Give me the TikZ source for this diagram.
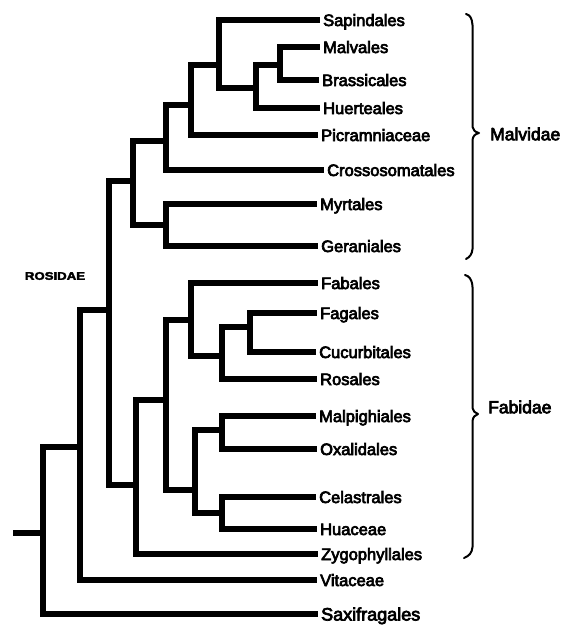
\documentclass[tikz,border=0pt]{standalone}
\usepackage{fontspec}
\usepackage{graphicx}
\setmainfont{Liberation Sans}
\newfontfamily\labfont{Liberation Sans}[FakeBold=4]
\newfontfamily\rosfont{Liberation Sans Bold}[FakeBold=3]
\tikzset{
  tree/.style={line width=5.2pt, line join=miter, line cap=butt},
  leaf/.style={anchor=west, inner xsep=3pt, inner ysep=0pt, text height=12pt, text depth=0pt, font=\labfont\fontsize{16.5}{18}\selectfont},
  clade/.style={anchor=west, inner sep=0pt, text height=12.5pt, text depth=0pt, font=\labfont\fontsize{17.5}{20}\selectfont},
  bracebar/.style={line width=2pt, line cap=round, line join=round}
}
\begin{document}
\begin{tikzpicture}[x=1pt,y=-1pt]
\useasboundingbox (0,0) rectangle (569,625);
% leaves
\node[leaf] (sap) at (320,20) {Sapindales};
\node[leaf] (mal) at (320,47) {Malvales};
\node[leaf] (bra) at (319,80) {Brassicales};
\node[leaf] (hue) at (320,108) {Huerteales};
\node[leaf] (pic) at (318,135) {Picramniaceae};
\node[leaf] (cro) at (324,170) {Crossosomatales};
\node[leaf] (myr) at (317,204) {Myrtales};
\node[leaf] (ger) at (318,246) {Geraniales};
\node[leaf] (fab) at (318,283) {Fabales};
\node[leaf] (fag) at (317,313) {Fagales};
\node[leaf] (cuc) at (316,352) {Cucurbitales};
\node[leaf] (ros) at (317,379) {Rosales};
\node[leaf] (malp) at (316,416) {Malpighiales};
\node[leaf] (oxa) at (317,449) {Oxalidales};
\node[leaf] (cel) at (316,497) {Celastrales};
\node[leaf] (hua) at (317,529) {Huaceae};
\node[leaf] (zyg) at (318,554) {Zygophyllales};
\node[leaf] (vit) at (317,580) {Vitaceae};
\node[leaf, text height=13pt, font=\labfont\fontsize{18}{20}\selectfont] (sax) at (318,614) {Saxifragales};
% internal nodes
\coordinate (nA) at (280,65);
\coordinate (nB) at (256,88);
\coordinate (nC) at (219,65);
\coordinate (nD) at (191,105);
\coordinate (nE) at (166,141);
\coordinate (nF) at (166,225);
\coordinate (nG) at (133,181);
\coordinate (nH) at (250,327);
\coordinate (nI) at (222,356);
\coordinate (nJ) at (191,320);
\coordinate (nK) at (222,430);
\coordinate (nL) at (222,513);
\coordinate (nM) at (195,490);
\coordinate (nN) at (166,400);
\coordinate (nO) at (136,485);
\coordinate (nP) at (109,310);
\coordinate (nQ) at (80,447);
\coordinate (nR) at (43,533);
\coordinate (root) at (13,533);
% edges
\draw[tree] (nA) |- (mal.west);  \draw[tree] (nA) |- (bra.west);
\draw[tree] (nB) |- (nA);        \draw[tree] (nB) |- (hue.west);
\draw[tree] (nC) |- (sap.west);  \draw[tree] (nC) |- (nB);
\draw[tree] (nD) |- (nC);        \draw[tree] (nD) |- (pic.west);
\draw[tree] (nE) |- (nD);        \draw[tree] (nE) |- (cro.west);
\draw[tree] (nF) |- (myr.west);  \draw[tree] (nF) |- (ger.west);
\draw[tree] (nG) |- (nE);        \draw[tree] (nG) |- (nF);
\draw[tree] (nH) |- (fag.west);  \draw[tree] (nH) |- (cuc.west);
\draw[tree] (nI) |- (nH);        \draw[tree] (nI) |- (ros.west);
\draw[tree] (nJ) |- (fab.west);  \draw[tree] (nJ) |- (nI);
\draw[tree] (nK) |- (malp.west); \draw[tree] (nK) |- (oxa.west);
\draw[tree] (nL) |- (cel.west);  \draw[tree] (nL) |- (hua.west);
\draw[tree] (nM) |- (nK);        \draw[tree] (nM) |- (nL);
\draw[tree] (nN) |- (nJ);        \draw[tree] (nN) |- (nM);
\draw[tree] (nO) |- (nN);        \draw[tree] (nO) |- (zyg.west);
\draw[tree] (nP) |- (nG);        \draw[tree] (nP) |- (nO);
\draw[tree] (nQ) |- (nP);        \draw[tree] (nQ) |- (vit.west);
\draw[tree] (nR) |- (nQ);        \draw[tree] (nR) |- (sax.west);
\draw[tree] (root) -- (nR);
% labels
\node[font=\rosfont\fontsize{11}{12}\selectfont, inner sep=0pt] (rosidae) at (55,276) {\scalebox{1.2}[1]{ROSIDAE}};
\node[clade] (malvidae) at (490,134) {Malvidae};
\node[clade] (fabidae) at (488,407) {Fabidae};
% braces
\draw[bracebar] (466,14) .. controls (470,15) and (472,18) .. (472.5,25) -- (472.5,127)
  .. controls (473,130) and (475,132) .. (479,133)
  .. controls (475,134) and (473,136) .. (472.5,140) -- (472.5,249)
  .. controls (472,254) and (470,257) .. (466,259);
\draw[bracebar] (465,275) .. controls (469,276) and (472,279) .. (472.5,287) -- (472.5,408)
  .. controls (473,411) and (475,413) .. (478,414)
  .. controls (475,415) and (473,417) .. (472.5,421) -- (472.5,547)
  .. controls (472,553) and (469,556) .. (464,558);
\end{tikzpicture}
\end{document}
